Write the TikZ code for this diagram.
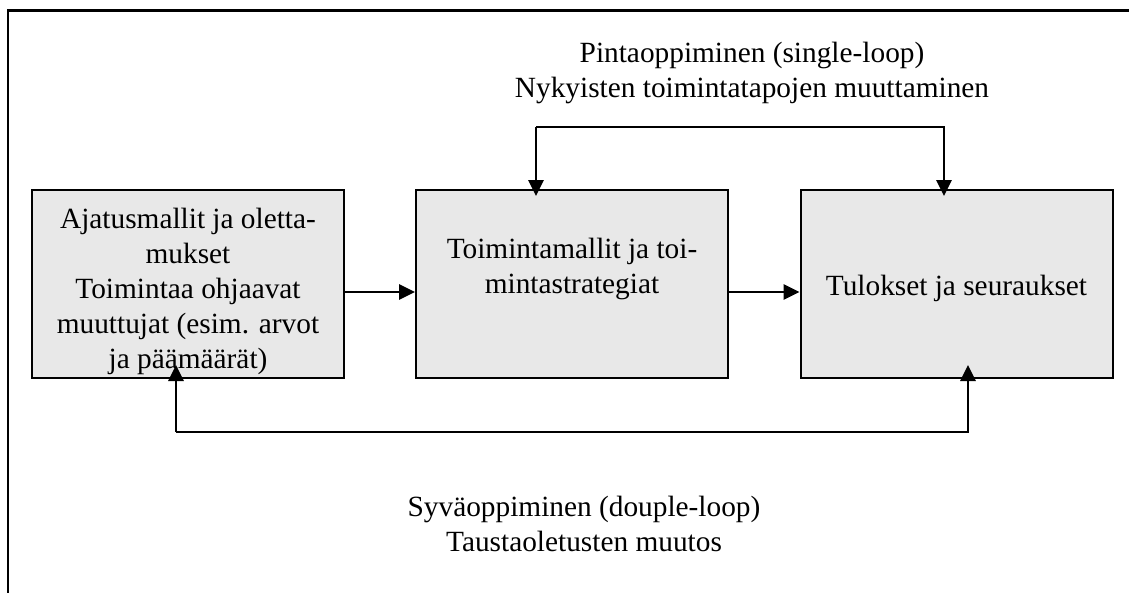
\documentclass[tikz,border=0pt]{standalone}
\usepackage{fontspec}
\setmainfont{Liberation Serif}
\usetikzlibrary{arrows.meta}

% invisible struts that adjust where a text block sits inside its box
\newcommand{\padtop}[1]{\rule{0pt}{#1}}
\newcommand{\padbot}[1]{\rule[-#1]{0pt}{#1}}

\begin{document}
\begin{tikzpicture}[x=0.75pt,y=-0.75pt,
  every node/.style={font=\fontsize{22}{26.25}\selectfont},
  stage/.style={draw=black, line width=1.5pt, fill={rgb,255:red,232;green,232;blue,232},
    minimum width=234pt, minimum height=141pt, inner sep=0pt, align=center},
  caption/.style={align=center, inner sep=0pt},
  conn/.style={line width=1.4pt, line join=miter},
  tip/.style={-{Triangle[length=12pt,width=11.5pt]}},
  frame/.style={line width=1.6pt}
]
\useasboundingbox (0,0) rectangle (1129,593);

% open frame: top and left edges only
\coordinate (fbl) at (8,593);
\coordinate (ftl) at (8,10.5);
\coordinate (ftr) at (1129,10.5);
\draw[frame] (fbl) -- (ftl) -- (ftr);

% the three stages
\node[stage] (b1) at (188,284) {\padtop{25.8pt}Ajatusmallit ja oletta-\\mukset\\Toimintaa ohjaavat\\muuttujat (esim. arvot\\ja päämäärät)};
\node[stage] (b2) at (572,284) {Toimintamallit ja toi-\\mintastrategiat\padbot{27.75pt}};
\node[stage] (b3) at (956.5,284) {\padtop{21.5pt}Tulokset ja seuraukset};

% forward flow
\draw[conn,tip] ([yshift=-6pt]b1.east) -- ([yshift=-6pt]b2.west);
\draw[conn,tip] ([yshift=-6pt]b2.east) -- ([yshift=-6pt]b3.west);

% single loop above
\coordinate (tl) at (536,127);
\coordinate (tr) at (944,127);
\draw[conn,tip,shorten >=-5.25pt] (tl) -- (b2.north -| tl);
\draw[conn,tip,shorten >=-5.25pt] (tl) -- (tr) -- (b3.north -| tr);

% double loop below
\coordinate (bl) at (176,432);
\coordinate (br) at (968,432);
\draw[conn,tip,shorten >=-10.5pt] (bl) -- (b1.south -| bl);
\draw[conn,tip,shorten >=-10.5pt] (bl) -- (br) -- (b3.south -| br);

% loop captions
\node[caption] (single) at (752,72.7) {Pintaoppiminen (single-loop)\\Nykyisten toimintatapojen muuttaminen};
\node[caption] (double) at (584,523.6) {Syväoppiminen (douple-loop)\\Taustaoletusten muutos};
\end{tikzpicture}
\end{document}
